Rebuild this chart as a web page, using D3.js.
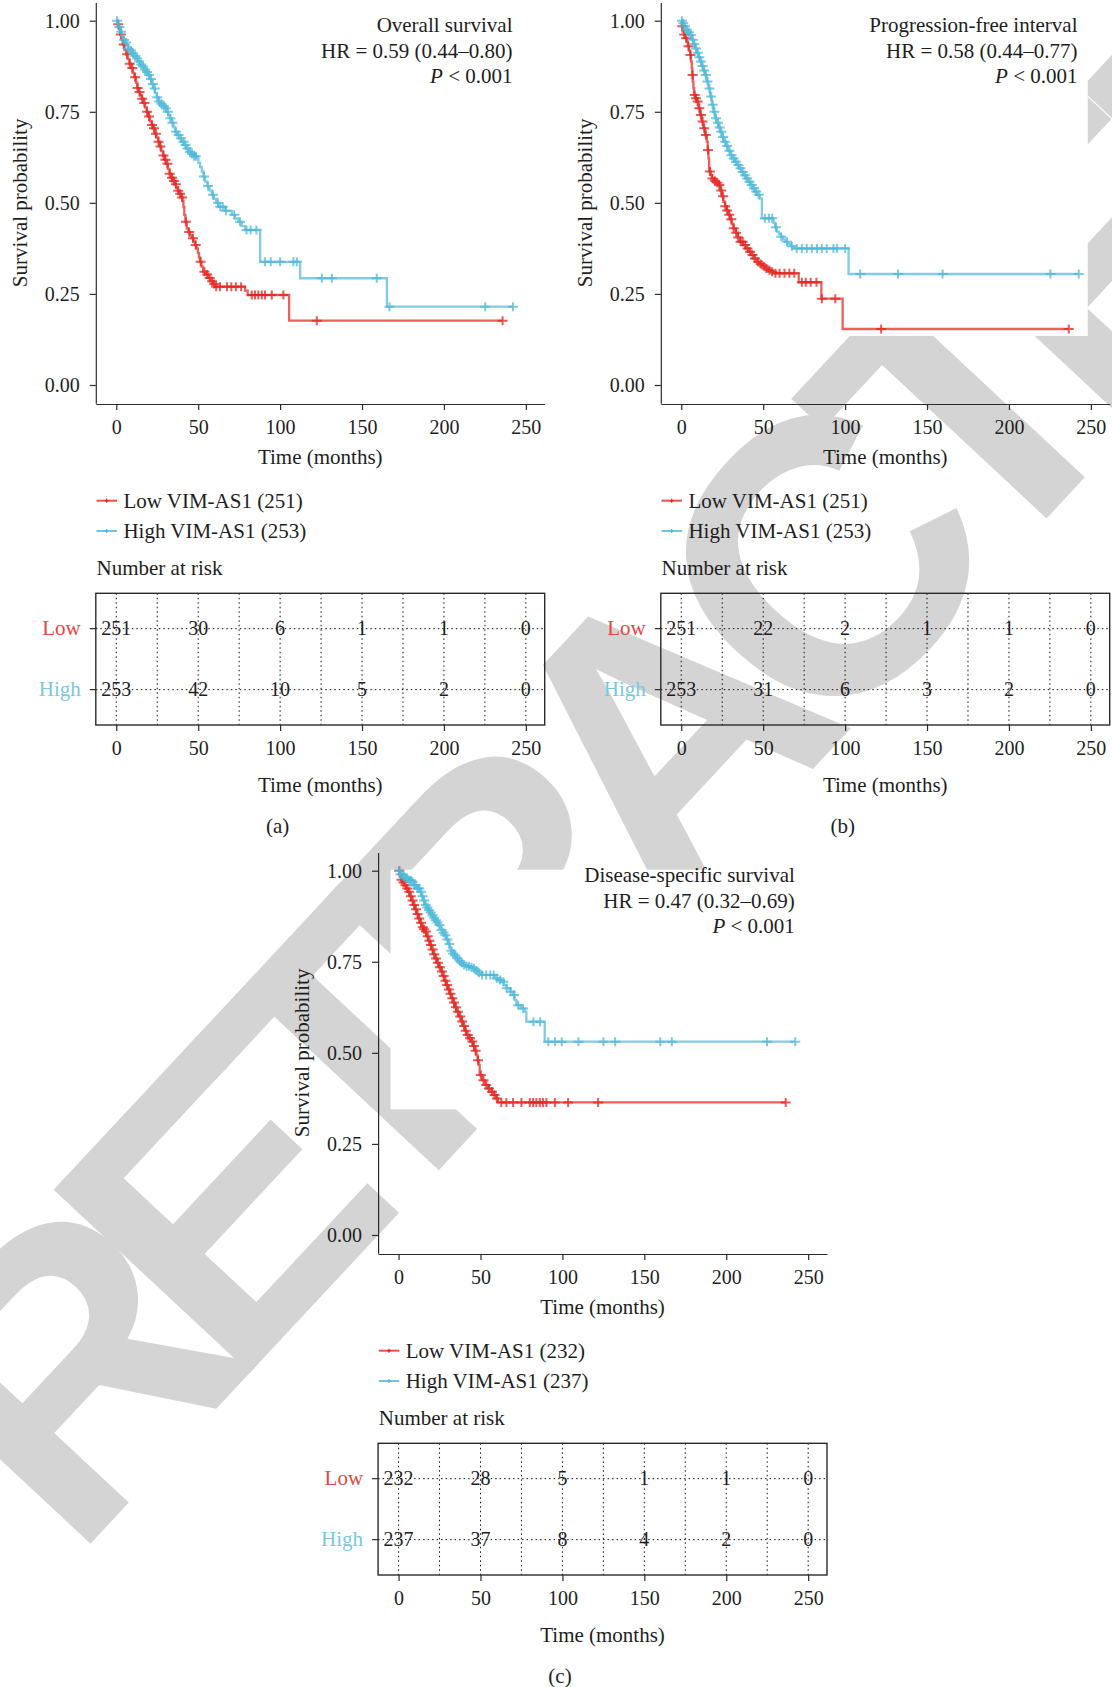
<!DOCTYPE html>
<html>
<head>
<meta charset="utf-8">
<script src="https://cdn.jsdelivr.net/npm/d3@7"></script>
<style>
  body { margin: 0; background: #fff; }
  svg { display: block; }
</style>
</head>
<body>
<svg id="fig" width="1112" height="1687"></svg>
<script>
// ---- axis ticks ----
const timeTicks = [0, 50, 100, 150, 200, 250];
const gridTimes = [0, 25, 50, 75, 100, 125, 150, 175, 200, 225, 250];
const probTicks = [0, 0.25, 0.5, 0.75, 1];
const groupNames = ["Low", "High"];

// ---- Overall survival: [months, survival] step points ----
const osLowSteps = [[0,1],[0.8,0.99],[1.6,0.978],[2.4,0.962],[3.2,0.948],[4,0.935],[5,0.92],[6,0.908],[7,0.895],[8,0.882],[9,0.87],[10,0.857],[11,0.845],[12,0.83],[12.8,0.815],[13.5,0.804],[14.5,0.795],[15.5,0.786],[16.5,0.774],[17.5,0.762],[18.5,0.75],[19.5,0.737],[20.5,0.724],[21.5,0.714],[22.5,0.705],[23.5,0.69],[24.5,0.68],[25.5,0.668],[26.5,0.655],[27.5,0.642],[28.5,0.63],[29.5,0.618],[30.5,0.607],[31.5,0.593],[32.5,0.58],[33.5,0.569],[34.5,0.56],[35.5,0.551],[36.5,0.542],[37.5,0.533],[38.5,0.525],[39.5,0.515],[40.5,0.505],[41,0.488],[41.5,0.467],[42.2,0.448],[43,0.43],[44,0.42],[45,0.411],[46,0.403],[47,0.394],[48,0.384],[49,0.375],[49.8,0.362],[50.5,0.35],[51.1,0.338],[52,0.325],[53,0.311],[54.5,0.303],[56,0.294],[57.5,0.285],[59,0.277],[60.3,0.27],[78.6,0.259],[80.2,0.247],[105.5,0.1765]];
const osHighSteps = [[0,1],[0.8,0.99],[1.6,0.983],[2.5,0.97],[3.3,0.955],[4.3,0.947],[5.3,0.94],[6.3,0.932],[7.3,0.924],[8.5,0.918],[9.7,0.911],[11,0.903],[12.2,0.896],[13.4,0.888],[14.6,0.88],[15.8,0.874],[17,0.866],[18.2,0.859],[19.5,0.851],[20.5,0.84],[21.5,0.826],[22.6,0.814],[23.6,0.802],[24.7,0.79],[25.7,0.778],[27,0.772],[28.3,0.766],[29.7,0.76],[30.7,0.75],[31.8,0.741],[32.8,0.732],[33.8,0.72],[34.9,0.707],[35.9,0.695],[37.2,0.686],[38.6,0.677],[39.9,0.668],[41.2,0.659],[42.6,0.649],[44,0.64],[45.7,0.634],[47.4,0.628],[49.1,0.622],[50.1,0.61],[51.2,0.598],[52.2,0.586],[53.2,0.572],[54.2,0.558],[55.6,0.546],[56.9,0.534],[58.3,0.522],[59.6,0.511],[61,0.5],[62.3,0.489],[66.4,0.478],[70.5,0.467],[72.5,0.457],[74.5,0.448],[76.5,0.436],[78.6,0.4255],[87.8,0.338],[112.2,0.293],[165.2,0.215]];
const osLowCensor = [1.2,2.8,4.5,6.6,8.2,9.8,11.5,13,14.2,15.8,17.2,18.8,20,21.8,23,24.2,25.8,27,28.8,30,31.2,32.6,34,35.2,36.4,37.8,39,40.2,42.5,44.5,46.8,48.5,51.5,53.8,55.5,57,58.5,59.8,61,63.3,67.6,70.2,73,76.2,82.7,84.7,86.7,88.8,90.8,94.9,102,122.4,235.8];
const osHighCensor = [0.5,1.8,3,4.8,6,7.5,9,10.2,11.6,12.8,14,15.2,16.4,17.6,18.8,20,21.2,22.3,23.5,25,26.2,27.5,29,30.2,31.5,33,34.3,36.5,38,39.5,41,42.2,43.5,45,46.2,47.5,48.5,53.5,56,59,62,63.5,65,67,72,75.5,79.5,82,85.5,90.8,94.3,100,108.1,110.2,125.5,131.6,159,166.8,225.2,242.1];
const osRiskLow = [251, 30, 6, 1, 1, 0];
const osRiskHigh = [253, 42, 10, 5, 2, 0];

// ---- Progression-free interval ----
const pfiLowSteps = [[0,1],[0.3,0.985],[0.8,0.97],[1.6,0.962],[2.5,0.952],[3.4,0.942],[4,0.93],[4.7,0.918],[5.4,0.906],[5.9,0.888],[6.4,0.869],[6.7,0.851],[7,0.833],[7.4,0.815],[7.8,0.796],[8.6,0.787],[9.5,0.778],[10.5,0.76],[11.5,0.741],[12.5,0.723],[13.5,0.705],[14.5,0.686],[15.6,0.668],[16.1,0.645],[16.6,0.622],[17,0.595],[17.2,0.586],[18,0.576],[18.6,0.567],[20,0.561],[21.3,0.555],[22.7,0.549],[23.7,0.534],[24.7,0.518],[25.7,0.503],[26.7,0.491],[27.8,0.479],[28.8,0.467],[29.8,0.455],[30.8,0.442],[31.8,0.43],[33.2,0.418],[34.5,0.405],[35.9,0.393],[37.6,0.384],[39.3,0.375],[41,0.366],[42.7,0.357],[44.4,0.347],[46.1,0.338],[47.8,0.332],[49.5,0.326],[51.2,0.32],[52.9,0.315],[54.6,0.311],[56.3,0.3066],[71.7,0.282],[85.5,0.237],[98.5,0.1537]];
const pfiHighSteps = [[0,1],[0.8,0.993],[1.8,0.985],[3,0.975],[4.2,0.968],[5.4,0.961],[6.4,0.948],[7.4,0.936],[8.4,0.924],[9.4,0.912],[10.5,0.9],[11.5,0.888],[12.5,0.876],[13.5,0.863],[14.5,0.851],[15.5,0.833],[16.6,0.814],[17.6,0.792],[18.6,0.769],[19.6,0.75],[20.6,0.732],[21.6,0.72],[22.6,0.707],[23.7,0.695],[24.7,0.681],[25.7,0.668],[27.1,0.656],[28.4,0.643],[29.8,0.631],[31.2,0.622],[32.5,0.613],[33.9,0.604],[35.2,0.595],[36.6,0.585],[37.9,0.576],[39.3,0.567],[40.6,0.558],[42,0.549],[43.4,0.54],[44.7,0.531],[46.1,0.522],[48.1,0.512],[49.2,0.4575],[56.3,0.445],[57.3,0.433],[58.3,0.421],[59.6,0.414],[60.8,0.407],[62.1,0.4],[63.4,0.393],[65.1,0.387],[66.8,0.381],[68.5,0.375],[102.1,0.3047]];
const pfiLowCensor = [0.6,1.8,3,4.4,5.6,6.9,8.2,9,10,11,12,13,14,15,16.3,17.5,19,20.5,22,23.2,24.4,25.5,26.8,28,29.3,30.5,32,33.5,34.8,36.2,37.5,39,40.4,42,43.5,45,46.8,48.5,50.3,52,53.8,55.5,57.5,60,63,66,69,73.6,76,79,82.5,85.8,94,122,236.5];
const pfiHighCensor = [0.4,1.2,2.2,3.4,4.6,5.8,7,8,9,10,11,12,13,14,15,16,17.2,18.2,19.2,20.2,21.2,22.4,23.4,24.4,25.5,26.8,28,29.4,30.6,32,33.4,34.8,36.2,37.5,39,40.2,41.6,43,44.4,45.8,47.2,51,53.5,55.5,57.8,61,64.5,67.5,70.5,73.6,76.6,79.7,82.8,85.8,88.8,92.9,95,100,109.2,132.3,159.5,225.3,242.6];
const pfiRiskLow = [251, 22, 2, 1, 1, 0];
const pfiRiskHigh = [253, 31, 6, 3, 2, 0];

// ---- Disease-specific survival ----
const dssLowSteps = [[0,1],[0.7,0.984],[1.5,0.975],[2.5,0.968],[3.5,0.96],[4.6,0.951],[5.7,0.942],[6.7,0.93],[7.8,0.918],[8.8,0.906],[9.8,0.894],[10.9,0.881],[11.9,0.869],[12.9,0.857],[13.9,0.845],[14.9,0.839],[15.9,0.833],[17,0.82],[18,0.808],[19,0.796],[20,0.784],[21,0.771],[22,0.759],[23.4,0.747],[24.7,0.735],[26.1,0.723],[27.1,0.711],[28.1,0.698],[29.1,0.686],[30.1,0.674],[31.2,0.662],[32.2,0.65],[33.2,0.638],[34.2,0.625],[35.2,0.613],[36.7,0.6],[38.3,0.586],[39.3,0.574],[40.4,0.561],[41.4,0.549],[42.9,0.54],[44.4,0.531],[45.4,0.519],[46.5,0.506],[47.5,0.494],[48.2,0.48],[48.9,0.467],[49.5,0.439],[51,0.425],[52.6,0.412],[54.6,0.402],[56.6,0.393],[58.2,0.384],[59.7,0.375],[60.7,0.364]];
const dssHighSteps = [[0,1],[1,0.99],[2.5,0.984],[4.2,0.979],[6,0.974],[7.8,0.97],[9.5,0.96],[11.2,0.951],[12.9,0.942],[13.9,0.93],[14.9,0.918],[15.9,0.906],[16.9,0.899],[18,0.892],[19,0.885],[20,0.878],[21,0.871],[22,0.864],[23,0.858],[24.1,0.851],[25.1,0.844],[26.1,0.837],[27.2,0.83],[28.2,0.823],[29.2,0.811],[30.2,0.799],[31.2,0.787],[32.2,0.78],[33.2,0.773],[34.2,0.767],[35.2,0.76],[36.6,0.753],[37.9,0.747],[39.3,0.741],[41.3,0.738],[43.4,0.735],[45.4,0.732],[47.1,0.726],[48.8,0.72],[50.5,0.714],[58.7,0.705],[60.7,0.7],[62.7,0.695],[64.3,0.686],[65.8,0.677],[67.9,0.668],[69.9,0.659],[70.9,0.645],[71.9,0.631],[74.5,0.622],[77,0.613],[78,0.5855],[89.2,0.5306]];
const dssLowCensor = [0.5,1.8,3,4.2,5.3,6.5,7.5,8.6,9.6,10.6,11.6,12.6,13.7,14.8,15.6,16.7,17.8,18.8,19.8,20.8,21.8,22.9,24,25.2,26.4,27.5,28.6,29.6,30.7,31.7,32.8,33.8,35,36.2,37.6,38.8,40,41,42.2,43.6,45,46,47,48.5,50.2,51.8,53.5,55.2,57,58.6,60,62.7,65.8,69.9,75,80.1,82.1,84.1,86.2,88.2,90.2,95.4,103.5,121.8,236.3];
const dssHighCensor = [0.3,1.2,2.2,3.2,4.2,5.2,6.5,7.5,8.5,9.5,10.5,11.6,12.6,13.6,14.6,15.6,16.6,17.6,18.6,19.6,20.7,21.7,22.7,23.8,25,26.2,27.4,28.6,29.8,31,32.2,33.4,34.6,35.8,37.2,38.5,40,41.5,43,44.5,46,47.5,49,51,53.5,56,58,60,62,64,66,68.5,70.5,73,76,82.3,86.4,91.4,95.5,99.6,109.8,125,132.2,159.7,166.8,224.9,242.1];
const dssRiskLow = [232, 28, 5, 1, 1, 0];
const dssRiskHigh = [237, 37, 8, 4, 2, 0];

// ---- panel texts ----
const endpointNames = ["Overall survival", "Progression-free interval", "Disease-specific survival"];
const hazardRatios = ["HR = 0.59 (0.44–0.80)", "HR = 0.58 (0.44–0.77)", "HR = 0.47 (0.32–0.69)"];
const lowGroupSizes = [251, 251, 232];
const highGroupSizes = [253, 253, 237];
const panelTags = ["(a)", "(b)", "(c)"];

// ---- styling ----
const SERIF = "'Liberation Serif', 'Times New Roman', serif";
const FS = 21;      // words
const FN = 20;      // numbers
const LOW_COLOR = "#E3241F";
const HIGH_COLOR = "#4DB8D8";
const LOW_LABEL = "#E8463E";
const HIGH_LABEL = "#78C9E0";
const AXIS = "#2b2b2b";
const INK = "#1e1e1e";

const svg = d3.select("#fig");
svg.append("rect").attr("width", 1112).attr("height", 1687).attr("fill", "#fff");

// diagonal watermark behind all panels
svg.append("text")
  .attr("transform", "translate(-30,1467) rotate(-47)")
  .attr("text-anchor", "start")
  .attr("dy", "0.36em")
  .attr("letter-spacing", -48)
  .attr("font-family", "'Liberation Sans', Arial, sans-serif")
  .attr("font-weight", "bold")
  .attr("font-size", 390)
  .attr("fill", "#D4D4D4")
  .text("RETRACTED");

const panels = [
  { ox: 0,     oy: 0,   idx: 0, low: osLowSteps,  high: osHighSteps,  lowC: osLowCensor,  highC: osHighCensor,  rLow: osRiskLow,  rHigh: osRiskHigh },
  { ox: 565,   oy: 0,   idx: 1, low: pfiLowSteps, high: pfiHighSteps, lowC: pfiLowCensor, highC: pfiHighCensor, rLow: pfiRiskLow, rHigh: pfiRiskHigh },
  { ox: 282.3, oy: 850, idx: 2, low: dssLowSteps, high: dssHighSteps, lowC: dssLowCensor, highC: dssHighCensor, rLow: dssRiskLow, rHigh: dssRiskHigh }
];

function survAt(steps, t) {
  let s = 1;
  for (const [tt, ss] of steps) { if (tt <= t) s = ss; else break; }
  return s;
}

function styleAxis(sel) {
  sel.selectAll("path.domain").attr("stroke", AXIS).attr("stroke-width", 1.2);
  sel.selectAll(".tick line").attr("stroke", AXIS).attr("stroke-width", 1.2);
  sel.selectAll(".tick text").attr("font-family", SERIF).attr("font-size", FN).attr("fill", INK);
}

const plus = "M-5,0H5M0,-4.5V4.5";

function label(g, x, y, txt, anchor, size, color) {
  return g.append("text").attr("x", x).attr("y", y).attr("text-anchor", anchor || "start")
    .attr("font-family", SERIF).attr("font-size", size || FS).attr("fill", color || INK).text(txt);
}

function drawPanel(p) {
  const g = svg.append("g").attr("transform", `translate(${p.ox},${p.oy})`);
  const x = d3.scaleLinear().domain([-12.5, 261.5]).range([95.8, 544.7]);
  const y = d3.scaleLinear().domain([-0.05, 1.05]).range([403.2, 2.5]);

  const series = [
    { steps: p.low,  cens: p.lowC,  color: LOW_COLOR },
    { steps: p.high, cens: p.highC, color: HIGH_COLOR }
  ];

  // white backing under the curves layer
  const tMax = d3.max(series, s => d3.max(s.cens));
  const sMin = d3.min(series, s => d3.min(s.steps, d => d[1]));
  g.append("rect")
    .attr("x", x(0) - 8).attr("y", y(1) - 1)
    .attr("width", x(tMax) - x(0) + 17)
    .attr("height", y(sMin) - y(1) + 8)
    .attr("fill", "#fff");

  // axes
  const ya = g.append("g").attr("transform", `translate(${x.range()[0]},0)`)
    .call(d3.axisLeft(y).tickValues(probTicks).tickFormat(d3.format(".2f")).tickSize(6).tickPadding(10).tickSizeOuter(0));
  styleAxis(ya);
  const xa = g.append("g").attr("transform", `translate(0,${y.range()[0] + 0.8})`)
    .call(d3.axisBottom(x).tickValues(timeTicks).tickSize(6).tickPadding(10).tickSizeOuter(0));
  styleAxis(xa);

  g.append("text").attr("transform", `translate(20,${(y.range()[0] + y.range()[1]) / 2}) rotate(-90)`)
    .attr("text-anchor", "middle").attr("dy", "0.33em")
    .attr("font-family", SERIF).attr("font-size", FS).attr("fill", INK)
    .text("Survival probability");
  label(g, (x.range()[0] + x.range()[1]) / 2, 463.5, "Time (months)", "middle");

  // curves
  const line = d3.line().x(d => x(d[0])).y(d => y(d[1])).curve(d3.curveStepAfter);
  series.forEach(s => {
    const last = s.steps[s.steps.length - 1];
    const end = d3.max(s.cens);
    const pts = s.steps.concat(end > last[0] ? [[end, last[1]]] : []);
    g.append("path").datum(pts).attr("d", line)
      .attr("fill", "none").attr("stroke", s.color).attr("stroke-width", 2.3)
      .attr("stroke-opacity", 0.72).attr("stroke-linejoin", "miter");
    g.append("g").selectAll("path").data(s.cens).join("path")
      .attr("transform", t => `translate(${x(t)},${y(survAt(s.steps, t))})`)
      .attr("d", plus).attr("fill", "none").attr("stroke", s.color)
      .attr("stroke-width", 2).attr("stroke-opacity", 0.75);
  });

  // endpoint annotation
  const ann = g.append("text").attr("text-anchor", "end")
    .attr("font-family", SERIF).attr("font-size", FS).attr("fill", INK);
  ann.append("tspan").attr("x", 512.5).attr("y", 32.3).text(endpointNames[p.idx]);
  ann.append("tspan").attr("x", 512.5).attr("y", 58.1).text(hazardRatios[p.idx]);
  const pl = ann.append("tspan").attr("x", 512.5).attr("y", 82.9);
  pl.append("tspan").attr("font-style", "italic").text("P");
  pl.append("tspan").text(" < 0.001");

  // legend
  const legendRows = [
    { label: `Low VIM-AS1 (${lowGroupSizes[p.idx]})`, color: LOW_COLOR, cy: 500.7 },
    { label: `High VIM-AS1 (${highGroupSizes[p.idx]})`, color: HIGH_COLOR, cy: 531 }
  ];
  legendRows.forEach(r => {
    g.append("line").attr("x1", 96.5).attr("x2", 117).attr("y1", r.cy).attr("y2", r.cy)
      .attr("stroke", r.color).attr("stroke-width", 2).attr("stroke-opacity", 0.8);
    g.append("path").attr("transform", `translate(106.7,${r.cy})`).attr("d", "M-2,0H2M0,-2V2")
      .attr("stroke", r.color).attr("stroke-width", 1.2);
    label(g, 123.4, r.cy + 6.8, r.label);
  });

  // number at risk table
  label(g, 96.5, 575, "Number at risk");

  const boxTop = 593.3, boxBot = 725;
  const ry = d3.scalePoint().domain(groupNames).range([boxTop, boxBot]).padding(0.58);
  const [bx0, bx1] = x.range();

  const grid = g.append("g").attr("stroke", "#111").attr("stroke-width", 1).attr("stroke-dasharray", "1.5,3");
  grid.selectAll("line.v").data(gridTimes).join("line").attr("class", "v")
    .attr("x1", d => x(d)).attr("x2", d => x(d)).attr("y1", boxTop).attr("y2", boxBot);
  grid.selectAll("line.h").data(groupNames).join("line").attr("class", "h")
    .attr("x1", bx0).attr("x2", bx1).attr("y1", d => ry(d)).attr("y2", d => ry(d));

  g.append("rect").attr("x", bx0).attr("y", boxTop).attr("width", bx1 - bx0).attr("height", boxBot - boxTop)
    .attr("fill", "none").attr("stroke", AXIS).attr("stroke-width", 1.4);

  const rows = [{ name: "Low", vals: p.rLow, color: LOW_LABEL }, { name: "High", vals: p.rHigh, color: HIGH_LABEL }];
  rows.forEach(r => {
    g.append("line").attr("x1", bx0 - 6).attr("x2", bx0).attr("y1", ry(r.name)).attr("y2", ry(r.name))
      .attr("stroke", AXIS).attr("stroke-width", 1.2);
    label(g, bx0 - 15, ry(r.name) + 6.8, r.name, "end", FS, r.color);
    g.append("g").selectAll("text").data(r.vals).join("text")
      .attr("x", (d, i) => x(timeTicks[i])).attr("y", ry(r.name) + 6.8)
      .attr("text-anchor", "middle").attr("font-family", SERIF).attr("font-size", FN).attr("fill", INK)
      .text(d => d);
  });

  const ra = g.append("g").attr("transform", `translate(0,${boxBot})`)
    .call(d3.axisBottom(x).tickValues(timeTicks).tickSize(6).tickPadding(10).tickSizeOuter(0));
  ra.select("path.domain").remove();
  styleAxis(ra);

  label(g, (bx0 + bx1) / 2, 792, "Time (months)", "middle");
  label(g, 277.7, 832.5, panelTags[p.idx], "middle");
}

panels.forEach(drawPanel);
</script>
</body>
</html>
